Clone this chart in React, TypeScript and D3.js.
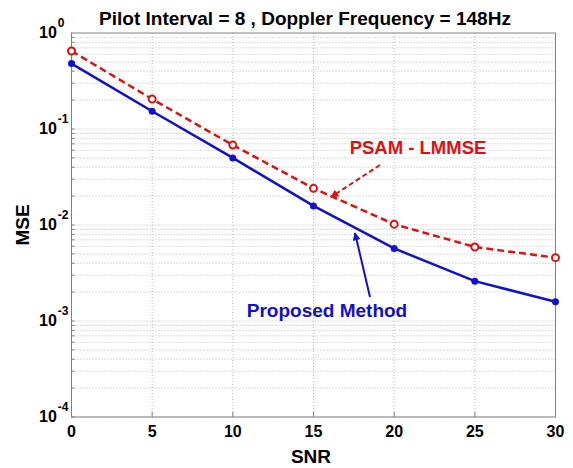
import React from "react";
import * as d3 from "d3";

const snr = [0, 5, 10, 15, 20, 25, 30];
const psamLmmse = [0.65, 0.205, 0.068, 0.0241, 0.0102, 0.0059, 0.00457];
const proposed = [0.48, 0.153, 0.05, 0.0158, 0.0057, 0.0026, 0.00159];
const xTicks = [0, 5, 10, 15, 20, 25, 30];
const yExponents = [0, -1, -2, -3, -4];

const W = 573;
const H = 468;
const m = { left: 71.5, right: 17.5, top: 33, bottom: 51 };
const FONT = "'Liberation Sans', Arial, sans-serif";

function drawChart(svgRef: React.RefObject<SVGSVGElement | null>) {
  const svg = d3.select(svgRef.current);
  svg.selectAll("*").remove();
  svg.attr("width", W).attr("height", H);

  const x = d3.scaleLinear().domain([0, 30]).range([m.left, W - m.right]);
  const y = d3.scaleLog().domain([1e-4, 1]).range([H - m.bottom, m.top]);

  const defs = svg.append("defs");
  defs.append("marker")
    .attr("id", "redHead").attr("viewBox", "0 0 10 10")
    .attr("refX", 9).attr("refY", 5)
    .attr("markerWidth", 4).attr("markerHeight", 4)
    .attr("orient", "auto")
    .append("path").attr("d", "M0,0 L10,5 L0,10 z").attr("fill", "#e01010");
  defs.append("marker")
    .attr("id", "blueHead").attr("viewBox", "0 0 10 10")
    .attr("refX", 9).attr("refY", 5)
    .attr("markerWidth", 4).attr("markerHeight", 4)
    .attr("orient", "auto")
    .append("path").attr("d", "M0,0 L10,5 L0,10 z").attr("fill", "#1010d0");

  // grid
  const grid = svg.append("g").attr("stroke", "#b8b8b8").attr("stroke-width", 1)
    .attr("stroke-dasharray", "1,2");
  const minorY: number[] = [];
  for (let e = -4; e < 0; e++) {
    for (let k = 1; k <= 9; k++) minorY.push(k * Math.pow(10, e));
  }
  grid.selectAll("line.gy").data(minorY).join("line")
    .attr("x1", m.left).attr("x2", W - m.right)
    .attr("y1", d => y(d)).attr("y2", d => y(d));
  grid.selectAll("line.gx").data(xTicks).join("line")
    .attr("x1", d => x(d)).attr("x2", d => x(d))
    .attr("y1", m.top).attr("y2", H - m.bottom);

  // box
  svg.append("rect")
    .attr("x", m.left).attr("y", m.top)
    .attr("width", W - m.left - m.right).attr("height", H - m.top - m.bottom)
    .attr("fill", "none").attr("stroke", "#808080").attr("stroke-width", 1);

  // ticks
  const ticks = svg.append("g").attr("stroke", "#808080");
  ticks.selectAll("line.tx").data(xTicks).join("line")
    .attr("x1", d => x(d)).attr("x2", d => x(d))
    .attr("y1", H - m.bottom).attr("y2", H - m.bottom - 5);
  ticks.selectAll("line.ty").data(minorY).join("line")
    .attr("x1", m.left).attr("x2", m.left + 3)
    .attr("y1", d => y(d)).attr("y2", d => y(d));

  // x tick labels
  svg.append("g").selectAll("text").data(xTicks).join("text")
    .attr("x", d => x(d)).attr("y", H - m.bottom + 20)
    .attr("text-anchor", "middle")
    .attr("font-family", FONT).attr("font-weight", "bold").attr("font-size", 16)
    .text(d => d);

  // y tick labels
  const yl = svg.append("g").attr("font-family", FONT).attr("font-weight", "bold");
  yExponents.forEach(e => {
    const t = yl.append("text")
      .attr("x", 39).attr("y", y(Math.pow(10, e)) + 5)
      .attr("font-size", 16).text("10");
    t.append("tspan").attr("dx", 1).attr("dy", -11).attr("font-size", 12)
      .text(e);
  });

  // lines
  const line = d3.line<number>()
    .x((_, i) => x(snr[i]))
    .y(d => y(d));

  svg.append("path").datum(psamLmmse)
    .attr("fill", "none").attr("stroke", "#e01010").attr("stroke-width", 2.5)
    .attr("stroke-dasharray", "7,4").attr("d", line);
  svg.append("g").selectAll("circle").data(psamLmmse).join("circle")
    .attr("cx", (_, i) => x(snr[i])).attr("cy", d => y(d)).attr("r", 3.5)
    .attr("fill", "white").attr("stroke", "#e01010").attr("stroke-width", 2);

  svg.append("path").datum(proposed)
    .attr("fill", "none").attr("stroke", "#1010d0").attr("stroke-width", 2.5)
    .attr("d", line);
  svg.append("g").selectAll("circle").data(proposed).join("circle")
    .attr("cx", (_, i) => x(snr[i])).attr("cy", d => y(d)).attr("r", 3.5)
    .attr("fill", "#1010d0");

  // annotations
  svg.append("line")
    .attr("x1", 380).attr("y1", 165).attr("x2", 331).attr("y2", 197)
    .attr("stroke", "#e01010").attr("stroke-width", 2).attr("stroke-dasharray", "5,3")
    .attr("marker-end", "url(#redHead)");
  svg.append("text").attr("x", 418).attr("y", 154).attr("text-anchor", "middle")
    .attr("font-family", FONT).attr("font-weight", "bold").attr("font-size", 18.5)
    .attr("fill", "#e01010").text("PSAM - LMMSE");

  svg.append("line")
    .attr("x1", 370).attr("y1", 297).attr("x2", 355).attr("y2", 233)
    .attr("stroke", "#1010d0").attr("stroke-width", 2)
    .attr("marker-end", "url(#blueHead)");
  svg.append("text").attr("x", 327).attr("y", 317).attr("text-anchor", "middle")
    .attr("font-family", FONT).attr("font-weight", "bold").attr("font-size", 19)
    .attr("fill", "#1010d0").text("Proposed Method");

  // titles
  svg.append("text").attr("x", 305).attr("y", 25).attr("text-anchor", "middle")
    .attr("font-family", FONT).attr("font-weight", "bold").attr("font-size", 19)
    .text("Pilot Interval = 8 , Doppler Frequency = 148Hz");
  svg.append("text").attr("x", 311).attr("y", 463).attr("text-anchor", "middle")
    .attr("font-family", FONT).attr("font-weight", "bold").attr("font-size", 19)
    .text("SNR");
  svg.append("text")
    .attr("transform", "translate(29,225) rotate(-90)").attr("text-anchor", "middle")
    .attr("font-family", FONT).attr("font-weight", "bold").attr("font-size", 19)
    .text("MSE");
}

export default function App() {
  const ref = React.useRef<SVGSVGElement>(null);
  React.useEffect(() => {
    drawChart(ref);
  }, []);
  return (
    <svg ref={ref} style={{ position: "absolute", left: 0, top: 0, background: "white" }} />
  );
}
